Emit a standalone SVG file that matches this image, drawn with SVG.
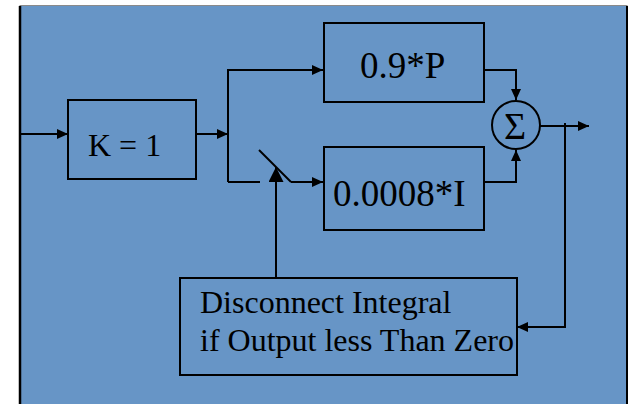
<svg xmlns="http://www.w3.org/2000/svg" width="629" height="404" viewBox="0 0 629 404">
<style>
.box{fill:none;stroke:#000;stroke-width:2}
.ln{fill:none;stroke:#000;stroke-width:2}
.t{font-family:"Liberation Serif","Times New Roman",serif;fill:#000}
</style>
<defs>
<marker id="ah" markerWidth="11" markerHeight="10" refX="11" refY="5" orient="auto" markerUnits="userSpaceOnUse">
<path d="M0,0 L11,5 L0,10 Z" fill="#000"/>
</marker>
<marker id="ahb" markerWidth="15" markerHeight="15" refX="15" refY="7.5" orient="auto" markerUnits="userSpaceOnUse">
<path d="M0,0 L15,7.5 L0,15 Z" fill="#000"/>
</marker>
</defs>
<rect x="0" y="0" width="629" height="404" fill="#fff"/>
<rect x="20" y="5.5" width="607" height="400" fill="#6795C6" stroke="#8a8a8a" stroke-width="1"/>
<line x1="20" y1="6" x2="20" y2="404" stroke="#000" stroke-width="2.5"/>
<line x1="627" y1="6" x2="627" y2="404" stroke="#000" stroke-width="2"/>

<g id="connectors">
<line class="ln" x1="20" y1="134" x2="68" y2="134" marker-end="url(#ah)"/>
<line class="ln" x1="196" y1="134" x2="228" y2="134" marker-end="url(#ah)"/>
<polyline class="ln" points="228,182 228,70 323,70" marker-end="url(#ah)"/>
<polyline class="ln" points="228,182 260,182"/>
<line class="ln" x1="259" y1="150" x2="291" y2="182"/>
<line class="ln" x1="291" y1="182" x2="323" y2="182" marker-end="url(#ah)"/>
<line class="ln" x1="276" y1="278" x2="276" y2="167" marker-end="url(#ahb)"/>
<polyline class="ln" points="484,70 516,70 516,100" marker-end="url(#ah)"/>
<polyline class="ln" points="484,182 516,182 516,150" marker-end="url(#ah)"/>
<line class="ln" x1="540" y1="126" x2="589" y2="126" marker-end="url(#ah)"/>
<polyline class="ln" points="565,123 565,327 517,327" marker-end="url(#ah)"/>
</g>

<g id="k">
<rect class="box" x="68" y="100" width="128" height="79"/>
<text class="t" x="88" y="156" font-size="32">K = 1</text>
</g>
<g id="p">
<rect class="box" x="324" y="23" width="160" height="79"/>
<text class="t" x="360" y="78" font-size="37">0.9*P</text>
</g>
<g id="i">
<rect class="box" x="324" y="147" width="160" height="83"/>
<text class="t" x="333" y="206" font-size="37">0.0008*I</text>
</g>
<g id="sum">
<circle cx="516" cy="125" r="24" fill="none" stroke="#000" stroke-width="2"/>
<text class="t" x="515" y="139" font-size="38" text-anchor="middle">Σ</text>
</g>
<g id="disconnect">
<rect class="box" x="180" y="278" width="337" height="97"/>
<text class="t" x="200" y="313" font-size="32">Disconnect Integral</text>
<text class="t" x="200" y="351" font-size="32">if Output less Than Zero</text>
</g>
</svg>
